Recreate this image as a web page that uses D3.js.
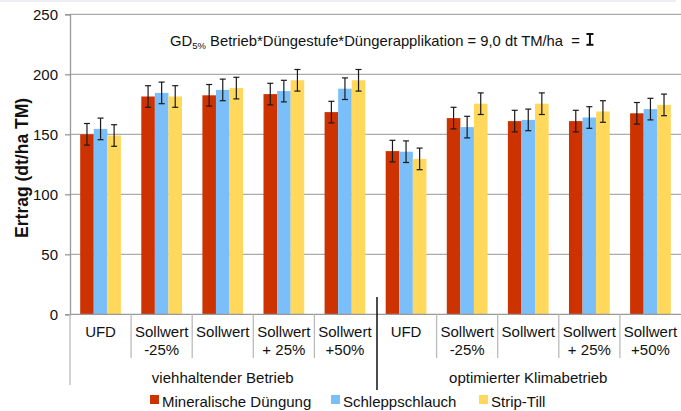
<!DOCTYPE html>
<html>
<head>
<meta charset="utf-8">
<script src="https://cdn.jsdelivr.net/npm/d3@7"></script>
<style>
  html, body { margin: 0; padding: 0; background: #fff; }
  svg { display: block; font-family: "Liberation Sans", Arial, sans-serif; }
</style>
</head>
<body>
<svg id="chart" width="681" height="411"></svg>
<script>
// Ertrag (dt/ha TM) by Düngestufe, Betrieb and Düngerapplikation
const categories = [
  ["UFD"], ["Sollwert", "-25%"], ["Sollwert"], ["Sollwert", "+ 25%"], ["Sollwert", "+50%"],
  ["UFD"], ["Sollwert", "-25%"], ["Sollwert"], ["Sollwert", "+ 25%"], ["Sollwert", "+50%"]
];
const farms = ["viehhaltender Betrieb", "optimierter Klimabetrieb"];
const seriesNames = ["Mineralische Düngung", "Schleppschlauch", "Strip-Till"];
const mineral = [150, 181.5, 182.5, 183.5, 168.5, 136, 163.5, 161, 161, 167.5];
const schlepp = [154.5, 184.5, 187, 186, 188, 135.5, 156, 162, 164, 171];
const strip   = [149, 181.5, 188.5, 195, 195, 129.5, 175.5, 175.5, 169, 174.5];
const gd = 9.0;
const yTicks = [0, 50, 100, 150, 200, 250];
const colors = ["#cc3300", "#7abff9", "#ffd85c"];

const svg = d3.select("#chart");
const margin = { left: 70, right: 681, top: 14.3, bottom: 314.3 };

const seriesValues = [mineral, schlepp, strip];

const x0 = d3.scaleBand().domain(d3.range(categories.length))
  .range([margin.left, margin.right]).paddingInner(0).paddingOuter(0);
const x1 = d3.scaleBand().domain(d3.range(seriesNames.length))
  .range([0, x0.bandwidth()]).paddingInner(0).paddingOuter(0.75);
const y = d3.scaleLinear().domain([0, 250]).range([margin.bottom, margin.top]);

// faint strip along the top edge
svg.append("rect").attr("x", 0).attr("y", 0).attr("width", 676).attr("height", 2).attr("fill", "#eceef4");

// horizontal gridlines
svg.append("g").selectAll("line").data(yTicks.filter(d => d > 0)).join("line")
  .attr("x1", margin.left).attr("x2", 681)
  .attr("y1", d => y(d)).attr("y2", d => y(d))
  .attr("stroke", "#ababab").attr("stroke-width", 1.3);

// y axis
const yAxis = svg.append("g").attr("transform", `translate(${margin.left},0)`)
  .call(d3.axisLeft(y).tickValues(yTicks).tickSize(5).tickPadding(7));
yAxis.select(".domain").attr("stroke", "#999").attr("stroke-width", 1.3);
yAxis.selectAll(".tick line").attr("stroke", "#999").attr("stroke-width", 1.3);
yAxis.selectAll(".tick text").attr("font-size", 15).attr("fill", "#111")
  .attr("font-family", "Liberation Sans, Arial, sans-serif");

// y axis title
svg.append("text")
  .attr("transform", `translate(28,${y(122)}) rotate(-90)`)
  .attr("text-anchor", "middle")
  .attr("font-size", 17.5).attr("font-weight", "bold").attr("fill", "#111")
  .text("Ertrag (dt/ha TM)");

// bars
const groups = svg.append("g").selectAll("g").data(categories).join("g")
  .attr("transform", (d, i) => `translate(${x0(i)},0)`);

groups.each(function(_, i) {
  const g = d3.select(this);
  seriesValues.forEach((vals, s) => {
    g.append("rect")
      .attr("x", x1(s)).attr("width", x1.bandwidth())
      .attr("y", y(vals[i])).attr("height", y(0) - y(vals[i]))
      .attr("fill", colors[s]);
  });
});

// error bars
groups.each(function(_, i) {
  const g = d3.select(this);
  seriesValues.forEach((vals, s) => {
    const cx = x1(s) + x1.bandwidth() / 2;
    const top = y(vals[i] + gd), bot = y(vals[i] - gd);
    const eb = g.append("g").attr("stroke", "#1a1a1a").attr("stroke-width", 1.2);
    eb.append("line").attr("x1", cx).attr("x2", cx).attr("y1", top).attr("y2", bot);
    eb.append("line").attr("x1", cx - 3).attr("x2", cx + 3).attr("y1", top).attr("y2", top);
    eb.append("line").attr("x1", cx - 3).attr("x2", cx + 3).attr("y1", bot).attr("y2", bot);
  });
});

// x axis line
svg.append("line").attr("x1", margin.left).attr("x2", 681)
  .attr("y1", y(0)).attr("y2", y(0)).attr("stroke", "#999").attr("stroke-width", 1.3);

// category dividers
const dividers = d3.range(1, categories.length).filter(i => i !== 5);
svg.append("g").selectAll("line").data(dividers).join("line")
  .attr("x1", i => x0(i)).attr("x2", i => x0(i))
  .attr("y1", y(0)).attr("y2", 358)
  .attr("stroke", "#bbb").attr("stroke-width", 1.3);
svg.append("line").attr("x1", margin.left).attr("x2", margin.left)
  .attr("y1", y(0)).attr("y2", 385).attr("stroke", "#bbb").attr("stroke-width", 1.3);

// divider between the two farm types
svg.append("line").attr("x1", x0(5) + 1.5).attr("x2", x0(5) + 1.5)
  .attr("y1", 297).attr("y2", 390).attr("stroke", "#111").attr("stroke-width", 1.5);

// category labels
const catText = svg.append("g").selectAll("text").data(categories).join("text")
  .attr("x", (d, i) => x0(i) + x0.bandwidth() / 2)
  .attr("y", 337)
  .attr("text-anchor", "middle").attr("font-size", 15).attr("fill", "#111");
catText.selectAll("tspan").data(d => d).join("tspan")
  .attr("x", function() { return this.parentNode.getAttribute("x"); })
  .attr("dy", (d, j) => j === 0 ? 0 : 18)
  .text(d => d);

// farm labels
svg.append("g").selectAll("text").data(farms).join("text")
  .attr("x", (d, i) => (x0(i * 5) + x0(i * 5 + 4) + x0.bandwidth()) / 2)
  .attr("y", 383)
  .attr("text-anchor", "middle").attr("font-size", 15).attr("fill", "#111")
  .text(d => d);

// LSD annotation
const note = svg.append("text").attr("x", 170).attr("y", 46)
  .attr("font-size", 14.8).attr("fill", "#111");
note.append("tspan").text("GD");
note.append("tspan").attr("font-size", 9.5).attr("dy", 3).text("5%");
note.append("tspan").attr("dy", -3).text("\u00a0Betrieb*Düngestufe*Düngerapplikation = 9,0 dt TM/ha \u00a0=");
const noteBox = note.node().getBBox();
const ix = noteBox.x + noteBox.width + 10;
const ib = svg.append("g").attr("stroke", "#111").attr("stroke-width", 2);
const iTop = 34, iLen = y(0) - y(gd);
ib.append("line").attr("x1", ix).attr("x2", ix).attr("y1", iTop).attr("y2", iTop + iLen);
ib.append("line").attr("x1", ix - 3.5).attr("x2", ix + 3.5).attr("y1", iTop).attr("y2", iTop);
ib.append("line").attr("x1", ix - 3.5).attr("x2", ix + 3.5).attr("y1", iTop + iLen).attr("y2", iTop + iLen);

// legend
const legendX = [150, 331, 479];
const legend = svg.append("g").selectAll("g").data(seriesNames).join("g")
  .attr("transform", (d, i) => `translate(${legendX[i]},395)`);
legend.append("rect").attr("width", 9).attr("height", 9).attr("fill", (d, i) => colors[i]);
legend.append("text").attr("x", 12).attr("y", 12).attr("font-size", 15).attr("fill", "#111").text(d => d);
</script>
</body>
</html>
